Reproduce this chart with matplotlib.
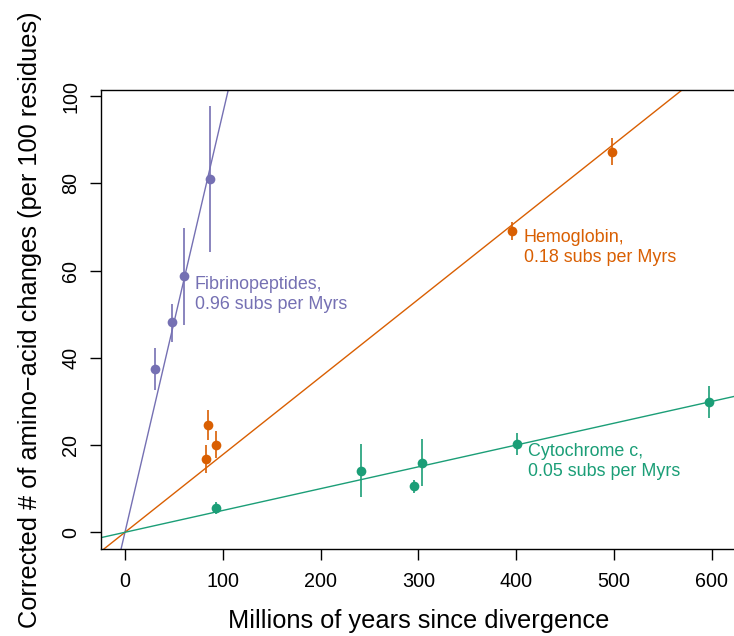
import matplotlib
matplotlib.use("Agg")
import matplotlib.pyplot as plt

plt.rcParams['font.family'] = ['Liberation Sans', 'DejaVu Sans']

# Protein families: divergence time (Myr), corrected changes, and error limits
fib_time = [30.7, 48.4, 60.3, 87.0]
fib_changes = [37.4, 48.3, 58.8, 81.0]
fib_low = [32.6, 43.6, 47.5, 64.2]
fib_high = [42.2, 52.3, 69.8, 97.7]
fib_rate = 0.96

hem_time = [82.5, 85.2, 93.0, 396.0, 498.3]
hem_changes = [16.8, 24.6, 20.0, 69.1, 87.2]
hem_low = [13.5, 21.1, 17.1, 67.0, 84.2]
hem_high = [20.0, 28.0, 23.2, 71.2, 90.5]
hem_rate = 0.178

cyt_time = [93.0, 241.3, 295.8, 303.7, 400.5, 597.5]
cyt_changes = [5.5, 14.1, 10.6, 15.9, 20.2, 29.9]
cyt_low = [4.1, 8.0, 9.1, 10.6, 17.7, 26.3]
cyt_high = [6.9, 20.2, 12.1, 21.3, 22.8, 33.5]
cyt_rate = 0.05

x_ticks = [0, 100, 200, 300, 400, 500, 600]
y_ticks = [0, 20, 40, 60, 80, 100]

purple, orange, green = "#7570B3", "#D95F02", "#1B9E77"

fig = plt.figure(figsize=(7.34, 6.36), dpi=100)
W, H = 734, 636
ax = fig.add_axes([101.3 / W, 1 - 549.3 / H, (736.5 - 101.3) / W, (549.3 - 90) / H])
ax.set_xlim(-24.2, 625.4)
ax.set_ylim(-3.9, 101.4)


def draw_family(t, v, lo, hi, rate, color):
    ax.axline((0, 0), slope=rate, color=color, lw=1.0, zorder=1)
    ax.vlines(t, lo, hi, color=color, lw=1.2, zorder=2)
    ax.plot(t, v, 'o', color=color, ms=7, mec='none', zorder=3)


draw_family(fib_time, fib_changes, fib_low, fib_high, fib_rate, purple)
draw_family(hem_time, hem_changes, hem_low, hem_high, hem_rate, orange)
draw_family(cyt_time, cyt_changes, cyt_low, cyt_high, cyt_rate, green)

label_kw = dict(fontsize=12.9, ha='left', va='center', linespacing=1.22)
ax.text(71.6, 54.6, f"Fibrinopeptides,\n{fib_rate:.2f} subs per Myrs",
        color=purple, **label_kw)
ax.text(408.0, 65.2, f"Hemoglobin,\n{hem_rate:.2f} subs per Myrs",
        color=orange, **label_kw)
ax.text(412.0, 16.3, f"Cytochrome c,\n{cyt_rate:.2f} subs per Myrs",
        color=green, **label_kw)

ax.set_xticks(x_ticks)
ax.set_yticks(y_ticks)
ax.tick_params(axis='both', length=8, width=1, labelsize=14.2, color='black')
ax.tick_params(axis='x', pad=8)
ax.tick_params(axis='y', pad=7, labelrotation=90)
for lbl in ax.get_yticklabels():
    lbl.set_va('center')

for sp in ax.spines.values():
    sp.set_linewidth(1.0)
    sp.set_color('black')
ax.spines['right'].set_visible(False)

ax.set_xlabel("Millions of years since divergence", fontsize=18.3, labelpad=13)
ax.set_ylabel("Corrected # of amino\u2212acid changes (per 100 residues)",
              fontsize=18.3, labelpad=14)

fig.savefig("out.png", dpi=100)
